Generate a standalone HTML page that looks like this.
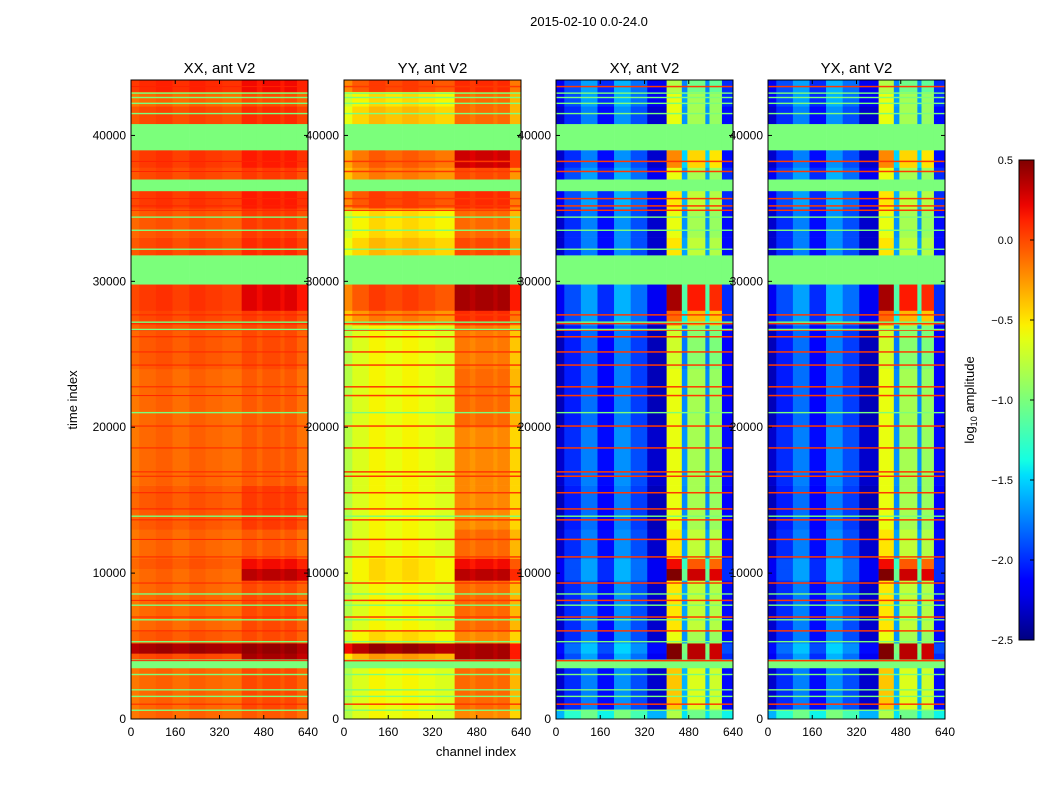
<!DOCTYPE html>
<html><head><meta charset="utf-8"><style>
body{margin:0;background:#fff;}
svg{display:block;font-family:"Liberation Sans","DejaVu Sans",sans-serif;}
</style></head><body>
<svg id="fig" width="1050" height="800" viewBox="0 0 1050 800">
<text x="589" y="26" font-size="13" text-anchor="middle">2015-02-10 0.0-24.0</text>
<text transform="translate(77,400) rotate(-90)" font-size="13" text-anchor="middle">time index</text>
<text x="476" y="756" font-size="13" text-anchor="middle">channel index</text>
<text transform="translate(974,400) rotate(-90)" font-size="13" text-anchor="middle">log<tspan font-size="9" dy="3">10</tspan><tspan dy="-3"> amplitude</tspan></text>
<g id="panels"></g>
<g id="cbar"></g>
</svg>
<script>
// ---- data ----
const panelTitles = ["XX, ant V2","YY, ant V2","XY, ant V2","YX, ant V2"];
const xTicks = [0,160,320,480,640];
const yTicks = [0,10000,20000,30000,40000];
const cbarTicks = [0.5,0.0,-0.5,-1.0,-1.5,-2.0,-2.5];
const colEdges = [0,30,90,150,210,270,330,400,455,475,540,555,600,640];
const colRegion = ["L","L","L","L","L","L","L","R","G","R","G","R","E"];
const bandEdges = [0,600,3500,4100,4500,5200,6000,9500,10300,11000,13000,16000,20000,24000,27000,28000,29800,31800,33000,35000,36200,37000,37800,39000,40800,42000,43000,43800];
// null = masked (green)
const xxL = [-0.1,-0.1,null,0.0,0.4,-0.05,-0.1,-0.1,-0.05,-0.1,-0.05,-0.1,-0.1,-0.05,0.0,0.05,null,0.0,-0.05,0.05,null,0.0,0.05,null,0.0,-0.1,0.1];
const xxR = [-0.05,0.0,null,0.4,0.45,0.0,0.0,0.35,0.2,-0.05,0.05,-0.05,-0.05,0.0,0.05,0.25,null,0.1,0.05,0.15,null,0.05,0.15,null,0.1,0.0,0.2];
const yyL = [-0.6,-0.6,null,-0.3,0.4,-0.5,-0.6,-0.5,-0.5,-0.6,-0.6,-0.6,-0.6,-0.6,-0.2,0.0,null,-0.4,-0.5,0.0,null,-0.2,-0.1,null,-0.4,-0.5,0.0];
const yyR = [-0.2,-0.1,null,0.4,0.4,-0.2,-0.1,0.35,0.2,-0.1,-0.2,-0.2,-0.1,-0.15,0.1,0.4,null,0.0,-0.1,0.1,null,0.0,0.3,null,-0.1,-0.1,0.1];
const xyL = [-1.3,-2.0,null,-1.9,-1.8,-2.0,-2.0,-1.9,-1.9,-2.0,-2.05,-2.0,-2.05,-2.05,-1.9,-1.9,null,-2.0,-2.0,-1.9,null,-1.9,-2.0,null,-2.0,-1.9,-1.9];
const xyR = [-1.0,-0.6,null,0.4,0.4,-0.8,-0.7,0.35,0.0,-0.7,-0.8,-0.8,-0.8,-0.9,-0.3,0.2,null,-0.7,-0.8,-0.7,null,-0.8,-0.4,null,-0.8,-0.8,-1.0];
const xxCol = [-0.05,0.0,0.03,-0.02,0.03,0.0,-0.03,0,0,0,0,0,-0.08];
const yyCol = [-0.2,-0.05,0.05,0.0,0.05,0.0,-0.05,0,0,0,0,0,-0.25];
const xyCol = [-0.3,0.0,0.25,-0.1,0.3,0.1,-0.3,0.2,-0.3,-0.05,-0.3,-0.1,-0.1];
const redLines = [1016,4000,6040,6990,8130,9320,11110,12310,13650,14400,15510,16640,16940,18580,20080,22170,22770,24260,25160,26200,26650,27100,27700,34870,35170,35670,37530,38220,43350];
const greenLines = [600,1550,2000,3050,5300,6800,7800,8570,13900,21000,26700,27200,32200,33500,34400,41500,42200,42600,42900];
// ---- layout ----
const panelX = [131,344,556,768], PW = 177, PT = 80, PB = 719;
const T_MAX = 43800, C_MAX = 640, VMIN = -2.5, VMAX = 0.5;
const NS = "http://www.w3.org/2000/svg";
function xs(c,i){return panelX[i] + c/C_MAX*PW;}
function ys(t){return PB - t/T_MAX*(PB-PT);}
function clamp(v){return Math.max(0,Math.min(1,v));}
function seg(x, pts){
  for(let i=0;i<pts.length-1;i++){
    const [x0,y0]=pts[i],[x1,y1]=pts[i+1];
    if(x<=x1) return y0+(y1-y0)*(x-x0)/(x1-x0);
  }
  return pts[pts.length-1][1];
}
const JR=[[0,0],[0.35,0],[0.66,1],[0.89,1],[1,0.5]];
const JG=[[0,0],[0.125,0],[0.375,1],[0.64,1],[0.91,0],[1,0]];
const JB=[[0,0.5],[0.11,1],[0.34,1],[0.65,0],[1,0]];
function jet(v){
  if(v===null) v=-1.0;
  const x = clamp((v-VMIN)/(VMAX-VMIN));
  const r=clamp(seg(x,JR)), g=clamp(seg(x,JG)), b=clamp(seg(x,JB));
  return `rgb(${Math.round(r*255)},${Math.round(g*255)},${Math.round(b*255)})`;
}
function mk(tag, attrs, parent){const e=document.createElementNS(NS,tag);for(const k in attrs)e.setAttribute(k,attrs[k]);parent.appendChild(e);return e;}
const panelsG = document.getElementById("panels");
const series = [[xxL,xxR,xxCol],[yyL,yyR,yyCol],[xyL,xyR,xyCol],[xyL,xyR,xyCol]];
for(let p=0;p<4;p++){
  const g = mk("g",{},panelsG);
  
  
  const [L,R,C] = series[p];
  for(let b=0;b<bandEdges.length-1;b++){
    const y1=ys(bandEdges[b+1]), y0=ys(bandEdges[b]);
    for(let c=0;c<colEdges.length-1;c++){
      let v;
      if(L[b]===null) v=null;
      else {
        const reg=colRegion[c];
        if(reg==="L") v=L[b]+C[c];
        else if(reg==="R") v=R[b]+C[c];
        else if(reg==="G") v=(p>=2 ? (L[b]+R[b])/2 + C[c] : R[b]-0.05);
        else v = (p>=2 ? L[b] : R[b]) + C[c];
      }
      const r = mk("rect",{x:xs(colEdges[c],p),y:y1,width:xs(colEdges[c+1],p)-xs(colEdges[c],p)+0.3,height:y0-y1+0.3,fill:jet(v)},g);
      
      
    }
  }
  const redVal = [0.12,0.05,0.05,0.05][p];
  const lh = p===0 ? 1 : 1.5;
  for(const t of redLines){
    const l = mk("rect",{x:panelX[p],y:ys(t)-lh/2,width:PW,height:lh,fill:jet(redVal)},g);
    
    
  }
  for(const t of greenLines){
    const l = mk("rect",{x:panelX[p],y:ys(t)-0.7,width:PW,height:1.4,fill:jet(null)},g);
    
    
  }
  const fr = mk("rect",{x:panelX[p],y:PT,width:PW,height:PB-PT,fill:"none",stroke:"#000","stroke-width":1},g);
  
  
  const tt = mk("text",{x:panelX[p]+PW/2,y:PT-7,"font-size":15,"text-anchor":"middle"},g);
  tt.textContent = panelTitles[p];
  
  
  for(const xv of xTicks){
    const X=xs(xv,p);
    mk("line",{x1:X,x2:X,y1:PB,y2:PB-4,stroke:"#000"},g);
    mk("line",{x1:X,x2:X,y1:PT,y2:PT+4,stroke:"#000"},g);
    const tl = mk("text",{x:X,y:PB+17,"font-size":12,"text-anchor":"middle"},g);
    tl.textContent = xv;
    
    
  }
  for(const yv of yTicks){
    const Y=ys(yv);
    mk("line",{x1:panelX[p],x2:panelX[p]+4,y1:Y,y2:Y,stroke:"#000"},g);
    mk("line",{x1:panelX[p]+PW,x2:panelX[p]+PW-4,y1:Y,y2:Y,stroke:"#000"},g);
    const tl = mk("text",{x:panelX[p]-5,y:Y+4,"font-size":12,"text-anchor":"end"},g);
    tl.textContent = yv;
    
    
  }
}
// colorbar
const cb = document.getElementById("cbar");
const CX=1019, CW=15, CT=160, CB=640;
const defs = mk("defs",{},cb);
const grad = mk("linearGradient",{id:"jetg",x1:0,y1:1,x2:0,y2:0},defs);
for(let i=0;i<=32;i++){ mk("stop",{offset:i/32,"stop-color":jet(VMIN+(VMAX-VMIN)*i/32)},grad); }
const cr = mk("rect",{x:CX,y:CT,width:CW,height:CB-CT,fill:"url(#jetg)",stroke:"#000"},cb);


for(const v of cbarTicks){
  const Y = CB - (v-VMIN)/(VMAX-VMIN)*(CB-CT);
  mk("line",{x1:CX+CW,x2:CX+CW-4,y1:Y,y2:Y,stroke:"#000"},cb);
  const t = mk("text",{x:CX-6,y:Y+4,"font-size":11,"text-anchor":"end"},cb);
  t.textContent = v.toFixed(1).replace("-","\u2212");
  
  
}
</script>
</body></html>
